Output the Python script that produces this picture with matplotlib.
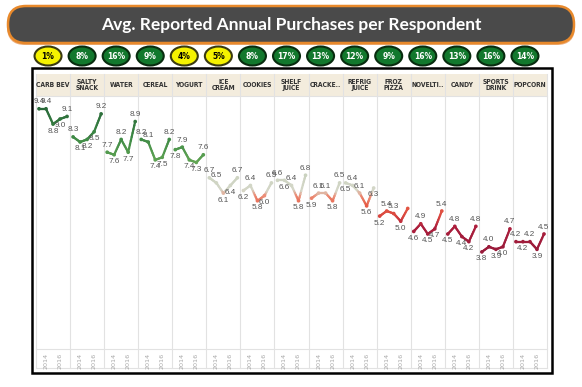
import numpy as np
import matplotlib.pyplot as plt
from matplotlib.patches import FancyBboxPatch, Ellipse, Rectangle
from matplotlib.collections import LineCollection
from matplotlib.colors import LinearSegmentedColormap

# ---- data ----
categories = ['CARB BEV', 'SALTY\nSNACK', 'WATER', 'CEREAL', 'YOGURT', 'ICE\nCREAM',
              'COOKIES', 'SHELF\nJUICE', 'CRACKE..', 'REFRIG\nJUICE', 'FROZ\nPIZZA',
              'NOVELTI..', 'CANDY', 'SPORTS\nDRINK', 'POPCORN']
years = [2013, 2014, 2015, 2016, 2017]
tick_years = [2014, 2016]
values = [
    [9.4, 9.4, 8.8, 9.0, 9.1],
    [8.3, 8.1, 8.2, 8.5, 9.2],
    [7.7, 7.6, 8.2, 7.7, 8.9],
    [8.2, 8.1, 7.4, 7.5, 8.2],
    [7.8, 7.9, 7.4, 7.3, 7.6],
    [6.7, 6.5, 6.1, 6.4, 6.7],
    [6.2, 6.4, 5.8, 6.0, 6.5],
    [6.6, 6.6, 6.4, 5.8, 6.8],
    [5.9, 6.1, 6.1, 5.8, 6.5],
    [6.5, 6.4, 6.1, 5.6, 6.3],
    [5.2, 5.4, 5.3, 5.0, 5.5],
    [4.6, 4.9, 4.5, 4.7, 5.4],
    [4.5, 4.8, 4.4, 4.2, 4.8],
    [3.8, 4.0, 3.9, 4.0, 4.7],
    [4.2, 4.2, 4.2, 3.9, 4.5],
]
# where each value label sits: a = above, b = below, '' = hidden
label_side = [
    'aabba', 'abbba', 'ababa', 'aabba', 'babba',
    'aabba', 'babba', 'ababa', 'baaba', 'baabb',
    ['b', 'a', 'a', 'b', ''], 'babba', 'babba', 'babba', 'ababa',
]
share_pct = [1, 8, 16, 9, 4, 5, 8, 17, 13, 12, 9, 16, 13, 16, 14]

# colour scale by value (green high -> grey -> red low)
cnodes = [(3.8, '#981a3a'), (4.8, '#ad1f3d'), (5.2, '#d9463f'), (5.6, '#e65b45'),
          (6.0, '#ec8f78'), (6.2, '#d5d7c8'), (6.8, '#ccd3c1'), (7.3, '#62a554'),
          (8.3, '#3e8a46'), (9.4, '#2a6a3a')]
vmin, vmax = cnodes[0][0], cnodes[-1][0]
cmap = LinearSegmentedColormap.from_list(
    'pur', [((v - vmin) / (vmax - vmin), c) for v, c in cnodes])


def vcol(v):
    return cmap((np.clip(v, vmin, vmax) - vmin) / (vmax - vmin))


W, H = 582, 387
fig = plt.figure(figsize=(W / 100, H / 100), dpi=100)
fig.patch.set_facecolor('white')

# overlay axes in pixel units for the decorations
bg = fig.add_axes([0, 0, 1, 1])
bg.set_xlim(0, W)
bg.set_ylim(H, 0)
bg.axis('off')

# title banner
bg.add_patch(FancyBboxPatch((7, 8), 568, 37, boxstyle='round,pad=0,rounding_size=18',
                            fc='#e0741c', ec='none', alpha=0.6))
bg.add_patch(FancyBboxPatch((8, 6), 566, 37, boxstyle='round,pad=0,rounding_size=18',
                            fc='#4a4a4a', ec='#e8892b', lw=1.8))
bg.text(W / 2, 25, 'Avg. Reported Annual Purchases per Respondent', color='white',
        fontsize=12.5, fontweight='bold', family='Lato', ha='center', va='center')

# panel geometry
x0, x1 = 36, 547
y_head, y_top, y_bot, y_end = 74, 96, 349, 368
pw = (x1 - x0) / len(categories)

# badges
for i, p in enumerate(share_pct):
    cx = x0 + pw * (i + 0.5) - 5
    yellow = p < 6
    bg.add_patch(Ellipse((cx, 56), 27, 19, fc='#f5f200' if yellow else '#12782d',
                         ec='#3a3a10' if yellow else '#082c0f', lw=1.5))
    bg.text(cx, 56.5, f'{p}%', fontsize=5.5, fontweight='bold', ha='center', va='center',
            color='black' if yellow else 'white')

# header band, grid lines, frame
bg.add_patch(Rectangle((x0, y_head), x1 - x0, y_top - y_head, fc='#f3ecdd', ec='none'))
for i in range(len(categories) + 1):
    xx = x0 + pw * i
    bg.plot([xx, xx], [y_head, y_end], color='#e2e2e2', lw=0.8)
for yy in (y_top, y_bot, y_end):
    bg.plot([x0, x1], [yy, yy], color='#e2e2e2', lw=0.8)
for i, c in enumerate(categories):
    bg.text(x0 + pw * (i + 0.5), (y_head + y_top) / 2, c, fontsize=4.9, fontweight='bold',
            color='#333333', ha='center', va='center', linespacing=1.1,
            family='DejaVu Sans', fontstretch='condensed')
bg.add_patch(Rectangle((32, 68), 520, 305, fc='none', ec='black', lw=1.8))

# small multiples
for i, vals in enumerate(values):
    ax = fig.add_axes([(x0 + pw * i) / W, 1 - y_bot / H, pw / W, (y_bot - y_top) / H])
    ax.set_facecolor('none')
    ax.set_xlim(2013 - 3 / 7, 2017 + 3 / 7)
    ax.set_ylim(0, 9.9)
    for s in ax.spines.values():
        s.set_visible(False)
    ax.set_yticks([])
    ax.set_xticks(tick_years)
    ax.set_xticklabels([str(t) for t in tick_years], rotation=90, fontsize=4.6,
                       color='#a8a8a8')
    ax.tick_params(axis='x', length=0, pad=2.5)

    # gradient line
    segs, cols = [], []
    for k in range(len(years) - 1):
        xs = np.linspace(years[k], years[k + 1], 9)
        ys = np.linspace(vals[k], vals[k + 1], 9)
        for j in range(8):
            segs.append([(xs[j], ys[j]), (xs[j + 1], ys[j + 1])])
            cols.append(vcol((ys[j] + ys[j + 1]) / 2))
    ax.add_collection(LineCollection(segs, colors=cols, linewidths=1.6, capstyle='round'))
    ax.scatter(years, vals, s=7, c=[vcol(v) for v in vals], zorder=3, linewidths=0)

    for yr, v, side in zip(years, vals, label_side[i]):
        if not side:
            continue
        up = side == 'a'
        ax.annotate(f'{v:.1f}', (yr, v), xytext=(0, 2.5 if up else -2.5),
                    textcoords='offset points', ha='center',
                    va='bottom' if up else 'top', fontsize=5.9, color='#555555',
                    family='Liberation Sans', annotation_clip=False)

fig.savefig('out.png', dpi=100)
